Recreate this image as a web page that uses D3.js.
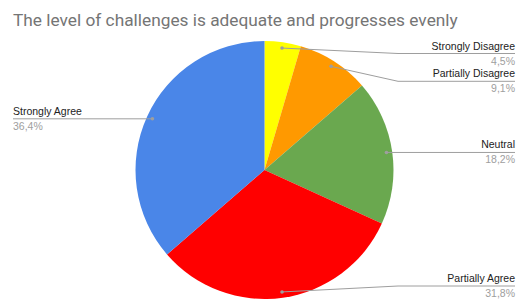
<!DOCTYPE html>
<html>
<head>
<meta charset="utf-8">
<script src="https://cdn.jsdelivr.net/npm/d3@7.9.0/dist/d3.min.js"></script>
<style>
  body { margin: 0; background: #fff; }
  svg { display: block; }
</style>
</head>
<body>
<div id="chart"></div>
<script>
const title = 'The level of challenges is adequate and progresses evenly';
const categories = ['Strongly Disagree', 'Partially Disagree', 'Neutral', 'Partially Agree', 'Strongly Agree'];
const counts = [1, 2, 4, 7, 8];
const colors = ['#ffff00', '#ff9900', '#6aa84f', '#ff0000', '#4a86e8'];

const width = 521, height = 303;
const cx = 264.5, cy = 170, radius = 129;

const svg = d3.select('#chart').append('svg')
  .attr('width', width)
  .attr('height', height);

svg.append('text')
  .attr('x', 13)
  .attr('y', 26)
  .attr('font-family', 'Roboto, Arial, sans-serif')
  .attr('font-size', 17.3)
  .attr('fill', '#757575')
  .text(title);

const data = categories.map((name, i) => ({ name, value: counts[i], color: colors[i] }));
const total = d3.sum(counts);
const fmt = v => d3.format('.1f')(v * 100).replace('.', ',') + '%';

const pie = d3.pie().sort(null).value(d => d.value);
const arcs = pie(data);
const arc = d3.arc().innerRadius(0).outerRadius(radius);
const dotArc = d3.arc().innerRadius(radius * 0.955).outerRadius(radius * 0.955);

const g = svg.append('g').attr('transform', `translate(${cx},${cy})`);
g.selectAll('path')
  .data(arcs)
  .join('path')
  .attr('d', arc)
  .attr('fill', d => d.data.color);

// label layout
const labels = arcs.map(a => {
  const [x, y] = dotArc.centroid(a);
  const mid = (a.startAngle + a.endAngle) / 2;
  return { a, x: x + cx, y: y + cy, right: mid < Math.PI, lineY: y + cy };
});

const right = labels.filter(d => d.right).sort((p, q) => p.y - q.y);
const minY = 53.5, maxY = 286, gap = 27.8;
right.forEach((d, i) => {
  d.lineY = Math.min(maxY, Math.max(d.y, i ? right[i - 1].lineY + gap : minY));
});

const lab = svg.append('g');
labels.forEach(d => {
  const endX = d.right ? 515 : 13;
  const elbowX = d.right ? 398 : 13;
  const pts = d.right
    ? [[d.x, d.y], [elbowX, d.lineY], [endX, d.lineY]]
    : [[d.x, d.y], [endX, d.lineY]];
  lab.append('path')
    .attr('d', d3.line()(pts))
    .attr('fill', 'none')
    .attr('stroke', '#9e9e9e')
    .attr('stroke-width', 1);
  lab.append('circle')
    .attr('cx', d.x).attr('cy', d.y).attr('r', 1.8)
    .attr('fill', '#9e9e9e');
  const anchor = d.right ? 'end' : 'start';
  lab.append('text')
    .attr('x', endX).attr('y', d.lineY - 4)
    .attr('text-anchor', anchor)
    .attr('font-family', 'Arial, "Liberation Sans", sans-serif')
    .attr('font-size', 10.5)
    .attr('fill', '#222')
    .text(d.a.data.name);
  lab.append('text')
    .attr('x', endX).attr('y', d.lineY + 11)
    .attr('text-anchor', anchor)
    .attr('font-family', 'Arial, "Liberation Sans", sans-serif')
    .attr('font-size', 10.5)
    .attr('fill', '#9e9e9e')
    .text(fmt(d.a.data.value / total));
});
</script>
</body>
</html>
